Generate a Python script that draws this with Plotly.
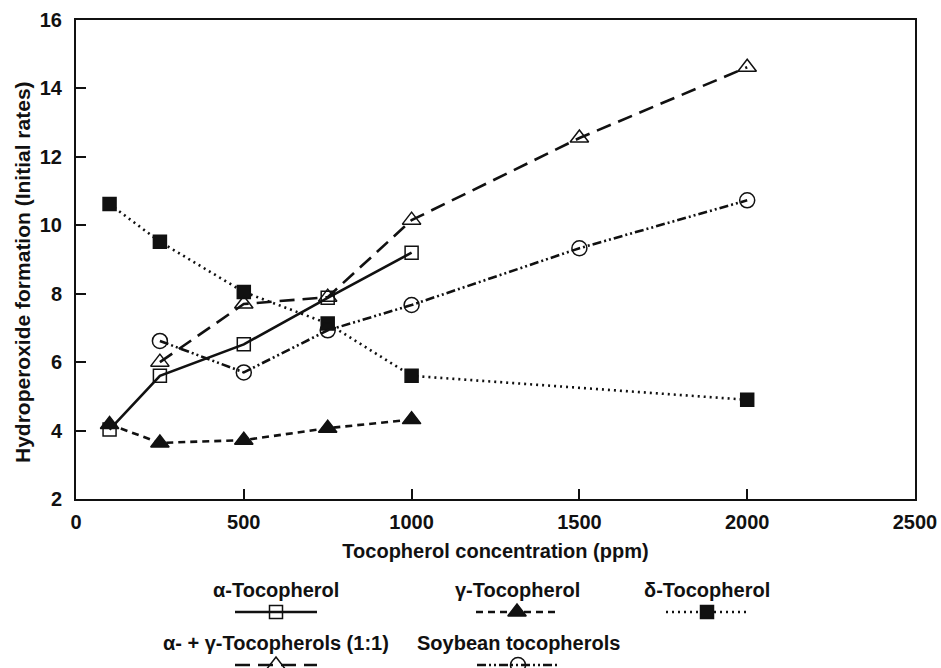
import plotly.graph_objects as go

# ---- data ----
x_alpha = [100, 250, 500, 750, 1000]
y_alpha = [4.03, 5.6, 6.52, 7.88, 9.2]
x_gamma = [100, 250, 500, 750, 1000]
y_gamma = [4.18, 3.64, 3.72, 4.07, 4.32]
x_delta = [100, 250, 500, 750, 1000, 2000]
y_delta = [10.62, 9.52, 8.05, 7.13, 5.6, 4.9]
x_ag = [250, 500, 750, 1000, 1500, 2000]
y_ag = [6.0, 7.7, 7.9, 10.15, 12.55, 14.62]
x_soy = [250, 500, 750, 1000, 1500, 2000]
y_soy = [6.62, 5.7, 6.93, 7.67, 9.33, 10.73]

names = ["α-Tocopherol", "γ-Tocopherol", "δ-Tocopherol",
         "α- + γ-Tocopherols (1:1)", "Soybean tocopherols"]
x_ticks = [0, 500, 1000, 1500, 2000, 2500]
y_ticks = [2, 4, 6, 8, 10, 12, 14, 16]

FONT = "Liberation Sans, Arial, Helvetica, sans-serif"
BLACK = "#111111"

styles = [
    dict(dash="solid", symbol="square-open", size=13),
    dict(dash="7px,5px", symbol="triangle-up", size=16),
    dict(dash="2px,4px", symbol="square", size=13),
    dict(dash="15px,8px", symbol="triangle-up-open", size=16),
    dict(dash="9px,3px,2px,3px,2px,3px", symbol="circle-open", size=15),
]
series = [(x_alpha, y_alpha), (x_gamma, y_gamma), (x_delta, y_delta),
          (x_ag, y_ag), (x_soy, y_soy)]

fig = go.Figure()
for (xs, ys), st, nm in zip(series, styles, names):
    fig.add_trace(go.Scatter(
        x=xs, y=ys, mode="lines+markers", name=nm, showlegend=False,
        line=dict(color=BLACK, width=2.6, dash=st["dash"]),
        marker=dict(symbol=st["symbol"], size=st["size"], color=BLACK,
                    line=dict(color=BLACK, width=1.5)),
        xaxis="x", yaxis="y"))

# ---- custom legend (text above a line sample), drawn on a pixel-valued helper axis ----
legend_pos = [  # (center x, text y, sample y)
    (276, 590, 612),
    (517, 590, 612),
    (707, 590, 612),
    (276, 643, 665),
    (518, 643, 665),
]
HALF = 41
for (cx, ty, sy), st, nm in zip(legend_pos, styles, names):
    fig.add_trace(go.Scatter(
        x=[cx - HALF, cx + HALF], y=[sy, sy], mode="lines", showlegend=False,
        line=dict(color=BLACK, width=2.6, dash=st["dash"]),
        xaxis="x2", yaxis="y2", hoverinfo="skip", cliponaxis=False))
    fig.add_trace(go.Scatter(
        x=[cx], y=[sy], mode="markers", showlegend=False,
        marker=dict(symbol=st["symbol"], size=st["size"], color=BLACK,
                    line=dict(color=BLACK, width=1.5)),
        xaxis="x2", yaxis="y2", hoverinfo="skip", cliponaxis=False))
    fig.add_annotation(x=cx, y=ty, xref="x2", yref="y2", text="<b>%s</b>" % nm,
                       showarrow=False, font=dict(family=FONT, size=20, color=BLACK),
                       xanchor="center", yanchor="middle")

W, H = 941, 668
TOP, BOTTOM_AXIS = 20, 499
plot_h = H - TOP
y_dom0 = (H - BOTTOM_AXIS) / plot_h

axis_common = dict(showline=True, linecolor=BLACK, linewidth=2, mirror=True,
                   ticks="inside", ticklen=10, tickwidth=1.5, tickcolor=BLACK,
                   showgrid=False, zeroline=False, automargin=False,
                   tickfont=dict(family=FONT, size=20, color=BLACK, weight="bold"))

# y-axis title placed as an annotation (left of the tick labels)
fig.add_annotation(text="<b>Hydroperoxide formation (Initial rates)</b>",
                   xref="paper", yref="paper", x=0, y=(H - 272) / plot_h,
                   xshift=-54, textangle=-90, showarrow=False,
                   font=dict(family=FONT, size=21, color=BLACK),
                   xanchor="center", yanchor="middle")

fig.update_layout(
    width=W, height=H,
    margin=dict(l=76, r=26, t=TOP, b=0, autoexpand=False),
    paper_bgcolor="white", plot_bgcolor="white",
    font=dict(family=FONT, color=BLACK),
    xaxis=dict(range=[0, 2500], tickvals=x_ticks, domain=[0, 1], anchor="y",
               ticklabelstandoff=4,
               title=dict(text="<b>Tocopherol concentration (ppm)</b>",
                          font=dict(family=FONT, size=20, color=BLACK), standoff=12),
               **axis_common),
    yaxis=dict(range=[2, 16], tickvals=y_ticks, domain=[y_dom0, 1], anchor="x",
               ticklabelstandoff=8,
               **axis_common),
    xaxis2=dict(range=[76, 915], domain=[0, 1], anchor="y2", visible=False,
                fixedrange=True),
    yaxis2=dict(range=[668, BOTTOM_AXIS], domain=[0, y_dom0], anchor="x2",
                visible=False, fixedrange=True),
)

fig.write_html("out.html")
